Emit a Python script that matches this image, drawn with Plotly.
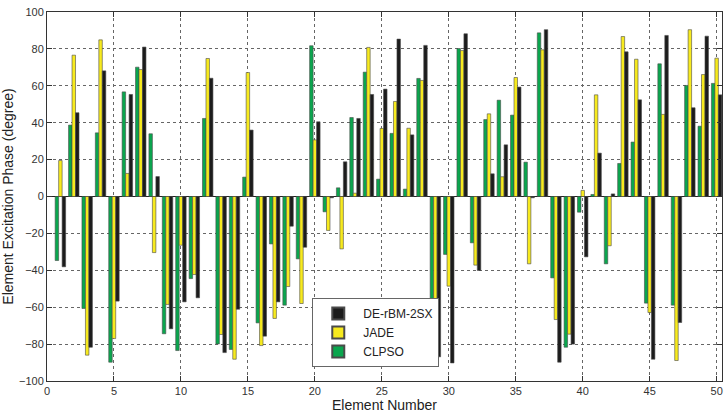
import plotly.graph_objects as go

elements = list(range(1, 51))

clpso = [-34.7, 38.7, -60.7, 34.5, -89.8, 56.7, 70.1, 34.0, -74.4, -83.5,
         -44.5, 42.3, -79.9, -82.9, 10.5, -68.5, -25.7, -58.9, -33.8, 81.7,
         -8.3, 4.7, 42.8, 67.4, 9.4, 34.2, 4.0, 64.0, -60.4, -31.4,
         80.2, -25.1, 41.7, 52.2, 44.1, 18.6, 88.7, -44.1, -81.7, -8.5,
         1.1, -36.5, 17.9, 29.5, -57.8, 71.9, -58.9, 60.2, 38.1, 61.3]

jade = [19.5, 76.6, -86.0, 84.9, -77.0, 12.5, 68.8, -30.4, -58.5, -26.4,
        -42.3, 74.8, -74.8, -88.2, 67.2, -80.8, -66.1, -48.8, -58.0, 30.7,
        -18.4, -28.4, 1.8, 80.8, 36.9, 51.5, 37.0, 62.9, -78.8, -48.6,
        79.1, -37.2, 44.8, 10.7, 64.5, -36.5, 79.5, -66.7, -74.6, 3.3,
        55.1, -26.7, 86.7, 74.4, -62.9, 44.5, -88.9, 90.4, 66.1, 75.0]

derbm = [-38.1, 45.4, -81.7, 68.1, -56.7, 55.3, 81.0, 10.8, -71.7, -57.1,
         -54.9, 64.1, -84.6, -61.1, 36.0, -75.7, -57.1, -16.1, -27.5, 40.5,
         -0.7, 18.8, 42.3, 55.3, 58.2, 85.3, 33.4, 81.9, -86.9, -90.2,
         88.2, -40.1, 12.3, 28.0, 59.3, -0.7, 90.4, -89.8, -80.0, -32.7,
         23.5, 1.4, 78.4, 52.4, -88.2, 87.3, -68.3, 48.1, 86.9, 55.1]

x_ticks = list(range(0, 51, 5))
y_ticks = list(range(-100, 101, 20))

font_fam = "Liberation Sans Narrow, Liberation Sans, Arial, sans-serif"

fig = go.Figure()
fig.add_trace(go.Bar(x=elements, y=clpso, name="CLPSO",
                     marker=dict(color="#0aa64e", line=dict(color="#4a4a4a", width=0.6))))
fig.add_trace(go.Bar(x=elements, y=jade, name="JADE",
                     marker=dict(color="#f7ea1e", line=dict(color="#4a4a4a", width=0.6))))
fig.add_trace(go.Bar(x=elements, y=derbm, name="DE-rBM-2SX",
                     marker=dict(color="#1c1c1c", line=dict(color="#4a4a4a", width=0.6))))

fig.update_layout(
    width=725, height=415,
    margin=dict(l=47, r=3, t=12, b=34),
    paper_bgcolor="white", plot_bgcolor="white",
    barmode="group", bargap=0.22, bargroupgap=0.0,
    font=dict(family=font_fam, size=11, color="#333"),
    legend=dict(x=0.393, y=0.225, xanchor="left", yanchor="top",
                traceorder="reversed", bgcolor="white",
                bordercolor="#666", borderwidth=1,
                font=dict(family="Liberation Sans, Arial", size=12, color="#222"),
                itemsizing="constant", tracegroupgap=0, itemwidth=40),
    showlegend=True,
)
fig.update_xaxes(range=[0, 50.4], tickvals=x_ticks, ticks="inside", ticklen=5,
                 tickcolor="#333", showline=True, linecolor="#333", linewidth=1,
                 mirror="ticks", showgrid=True, gridcolor="#666", griddash="dot",
                 gridwidth=1, zeroline=False,
                 title=dict(text="Element Number", standoff=2,
                            font=dict(family="Liberation Sans, Arial", size=14, color="#222")))
fig.update_yaxes(range=[-100, 100], tickvals=y_ticks, ticks="inside", ticklen=5,
                 tickcolor="#333", showline=True, linecolor="#333", linewidth=1,
                 mirror="ticks", showgrid=True, gridcolor="#666", griddash="dot",
                 gridwidth=1, zeroline=True, zerolinecolor="#222", zerolinewidth=1,
                 title=dict(text="Element Excitation Phase (degree)", standoff=4,
                            font=dict(family="Liberation Sans, Arial", size=14, color="#222")))

fig.write_html("out.html")
